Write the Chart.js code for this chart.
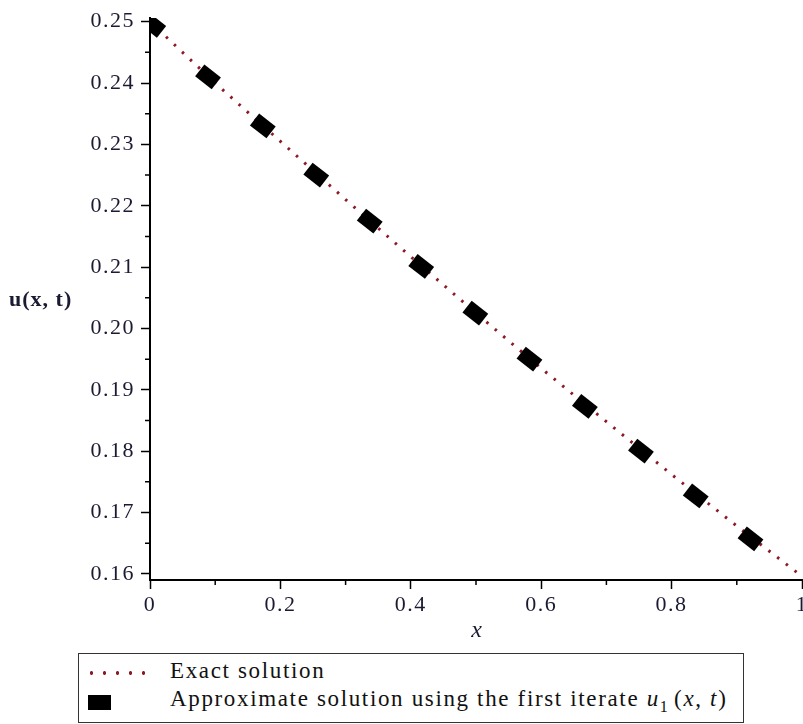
<!DOCTYPE html>
<html>
<head>
<meta charset="utf-8">
<script src="https://cdn.jsdelivr.net/npm/chart.js@4.4.0/dist/chart.umd.min.js"></script>
<style>
body { margin: 0; background: #fff; }
#wrap { position: relative; width: 803px; height: 724px; overflow: hidden; }
#legend {
	position: absolute; left: 78px; top: 653px; width: 666px; height: 70px;
	border: 1.5px solid #333; box-sizing: border-box; background: #fff;
	font-family: "Liberation Serif", "Times New Roman", serif; font-size: 23px;
	letter-spacing: 1.65px; color: #111;
}
#legend .txt { position: absolute; left: 91px; white-space: nowrap; line-height: 24px; }
#legend .dots {
	position: absolute; left: 6px; top: 17px; width: 66px; height: 4px;
	background-image: radial-gradient(circle, #8c1a24 1.6px, transparent 2px);
	background-size: 13px 4px;
}
#legend .box { position: absolute; left: 9px; top: 41px; width: 23px; height: 15px; background: #000; }
#legend sub { font-size: 16px; letter-spacing: 0; vertical-align: -6px; }
</style>
</head>
<body>
<div id="wrap">
	<canvas id="chart"></canvas>
	<div id="legend">
		<span class="dots"></span>
		<span class="txt" style="top:5px">Exact solution</span>
		<span class="box"></span>
		<span class="txt" style="top:33px">Approximate solution using the first iterate <i>u</i><sub>1</sub>&thinsp;(<i>x</i>, <i>t</i>)</span>
	</div>
</div>
<script>
// exact solution
var exactX = [0, 0.1, 0.2, 0.3, 0.4, 0.5, 0.6, 0.7, 0.8, 0.9, 1.0];
var exactU = [0.2500, 0.2400, 0.2305, 0.2210, 0.2117, 0.2025, 0.1935, 0.1848, 0.1762, 0.1678, 0.1596];

// first iterate u1
var approxX = [0.005, 0.089, 0.173, 0.255, 0.337, 0.416, 0.499, 0.582, 0.667, 0.753, 0.837, 0.921];
var approxU = [0.2494, 0.2410, 0.2330, 0.2250, 0.2175, 0.2101, 0.2025, 0.1950, 0.1873, 0.1800, 0.1727, 0.1657];

// ticks
var xTicks = [0, 0.2, 0.4, 0.6, 0.8, 1];
var xTickLabels = ['0', '0.2', '0.4', '0.6', '0.8', '1'];
var xMinor = [0.1, 0.3, 0.5, 0.7, 0.9];
var yTicks = [0.16, 0.17, 0.18, 0.19, 0.20, 0.21, 0.22, 0.23, 0.24, 0.25];
var yTickLabels = ['0.16', '0.17', '0.18', '0.19', '0.20', '0.21', '0.22', '0.23', '0.24', '0.25'];
var yMinor = [0.165, 0.175, 0.185, 0.195, 0.205, 0.215, 0.225, 0.235, 0.245];

var serif = '"Liberation Serif", "Times New Roman", serif';

function pairs(xs, ys) {
	return xs.map(function (x, i) { return { x: x, y: ys[i] }; });
}

// marker: a small rectangle, rotated along the line
var mark = document.createElement('canvas');
mark.width = 21;
mark.height = 15;
var mctx = mark.getContext('2d');
mctx.fillStyle = '#000';
mctx.fillRect(0, 0, 21, 15);

var axisExtras = {
	id: 'axisExtras',
	beforeDraw: function (chart) {
		chart.ctx.letterSpacing = '1.5px';
	},
	afterDraw: function (chart) {
		var ctx = chart.ctx;
		var xs = chart.scales.x, ys = chart.scales.y;
		var area = chart.chartArea;
		ctx.save();
		ctx.strokeStyle = '#000';
		ctx.lineWidth = 1.5;
		ctx.beginPath();
		xMinor.forEach(function (v) {
			var p = xs.getPixelForValue(v);
			ctx.moveTo(p, area.bottom);
			ctx.lineTo(p, area.bottom + 5);
		});
		yMinor.forEach(function (v) {
			var p = ys.getPixelForValue(v);
			ctx.moveTo(area.left, p);
			ctx.lineTo(area.left - 5, p);
		});
		ctx.stroke();

		ctx.fillStyle = '#1a1a33';
		ctx.textBaseline = 'middle';
		ctx.textAlign = 'left';
		ctx.font = 'bold 22px ' + serif;
		ctx.letterSpacing = '1px';
		ctx.fillText('u(x, t)', 9, 300);
		ctx.textAlign = 'center';
		ctx.font = 'italic 24px ' + serif;
		ctx.fillText('x', (area.left + area.right) / 2 + 1, 631);
		ctx.restore();
	}
};

var ctx = document.getElementById('chart').getContext('2d');
ctx.canvas.width = 803;
ctx.canvas.height = 724;
var chart = new Chart(ctx, {
	type: 'scatter',
	data: {
		datasets: [{
			label: 'Approximate solution',
			data: pairs(approxX, approxU),
			pointStyle: mark,
			rotation: 38,
			pointRadius: 10,
			backgroundColor: '#000',
			borderColor: '#000'
		}, {
			label: 'Exact solution',
			data: pairs(exactX, exactU),
			showLine: true,
			pointRadius: 0,
			borderColor: '#8c1a24',
			borderWidth: 3,
			borderDash: [2.5, 8.5],
			fill: false
		}]
	},
	options: {
		responsive: false,
		animation: false,
		layout: { autoPadding: false, padding: { left: 0, top: 18, right: 1, bottom: 84 } },
		plugins: {
			legend: { display: false },
			tooltip: { enabled: false }
		},
		scales: {
			x: {
				type: 'linear',
				min: 0,
				max: 1,
				afterBuildTicks: function (s) {
					s.ticks = xTicks.map(function (v) { return { value: v }; });
				},
				afterFit: function (s) {
					s.height = 60;
					s.paddingLeft = 0;
					s.paddingRight = 0;
				},
				ticks: {
					autoSkip: false,
					maxRotation: 0,
					padding: 3,
					color: '#1a1a33',
					font: { family: serif, size: 22 },
					callback: function (v, i) { return xTickLabels[i]; }
				},
				grid: { drawOnChartArea: false, drawTicks: true, tickLength: 9, tickWidth: 1.5, tickColor: '#000' },
				border: { display: true, color: '#000', width: 2 }
			},
			y: {
				type: 'linear',
				min: 0.159,
				max: 0.2506,
				afterBuildTicks: function (s) {
					s.ticks = yTicks.map(function (v) { return { value: v }; });
				},
				afterFit: function (s) {
					s.width = 150;
					s.paddingTop = 0;
					s.paddingBottom = 0;
				},
				ticks: {
					autoSkip: false,
					padding: 6,
					color: '#1a1a33',
					font: { family: serif, size: 22 },
					callback: function (v, i) { return yTickLabels[i]; }
				},
				grid: { drawOnChartArea: false, drawTicks: true, tickLength: 9, tickWidth: 1.5, tickColor: '#000' },
				border: { display: true, color: '#000', width: 2 }
			}
		}
	},
	plugins: [axisExtras]
});
</script>
</body>
</html>
